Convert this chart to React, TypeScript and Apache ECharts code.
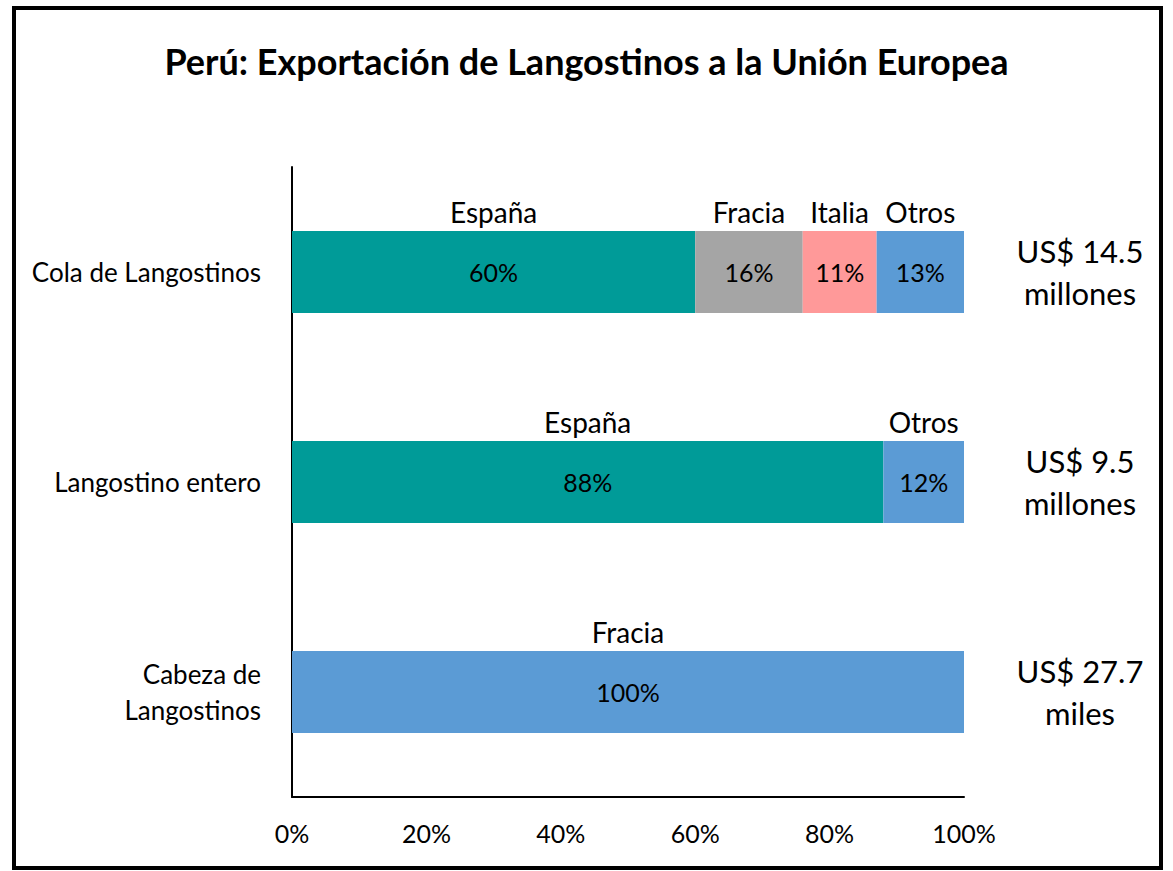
import React, { useEffect, useRef } from "react";
import * as echarts from "echarts";

const categories = ["Cola de Langostinos", "Langostino entero", "Cabeza de\nLangostinos"];
const totals = ["US$ 14.5\nmillones", "US$ 9.5\nmillones", "US$ 27.7\nmiles"];
const seriesNames = ["España", "Fracia", "Italia", "Otros"];
const espana = [60, 88, 0];
const fracia = [16, 0, 100];
const italia = [11, 0, 0];
const otros = [13, 12, 0];

const FONT = "Lato, 'Noto Sans', sans-serif";
const colors = ["#009B98", "#A5A5A5", "#FF9999", "#5B9BD5"];

export default function App() {
  const ref = useRef<HTMLDivElement>(null);
  useEffect(() => {
    if (!ref.current) return;
    const chart = echarts.init(ref.current, null, { renderer: "svg" });
    const all = [espana, fracia, italia, otros];
    const series = all.map((vals, si) => ({
      name: seriesNames[si],
      type: "bar",
      stack: "total",
      barWidth: "39%",
      itemStyle: { color: colors[si] },
      data: vals.map((v, ci) => {
        const item: any = { value: v };
        if (v === 0) {
          item.label = { show: false };
        }
        // the "Cabeza de Langostinos" bar (Francia) is drawn in the blue of the original
        if (si === 1 && ci === 2) item.itemStyle = { color: colors[3] };
        return item;
      }),
      label: {
        show: true,
        position: "inside",
        offset: [0, -30],
        formatter: (p: any) => `{n|${p.seriesName}}\n{p|${p.value}%}`,
        rich: {
          n: { fontFamily: FONT, fontSize: 28, lineHeight: 60, color: "#000" },
          p: { fontFamily: FONT, fontSize: 25, lineHeight: 60, color: "#000" },
        },
      },
    }));
    chart.setOption({
      animation: false,
      backgroundColor: "#fff",
      textStyle: { fontFamily: FONT },
      title: {
        text: "Perú: Exportación de Langostinos a la Unión Europea",
        left: "center",
        top: 38,
        textStyle: { fontFamily: FONT, fontSize: 36, fontWeight: "bold", color: "#000" },
      },
      graphic: [
        {
          type: "rect",
          shape: { x: 14, y: 8, width: 1147, height: 860 },
          style: { fill: "none", stroke: "#000", lineWidth: 4 },
          silent: true,
        },
      ],
      grid: { left: 292, right: 209, top: 167, bottom: 74 },
      xAxis: {
        type: "value",
        min: 0,
        max: 100,
        interval: 20,
        axisLine: { show: true, lineStyle: { color: "#000", width: 2 } },
        axisTick: { show: false },
        splitLine: { show: false },
        axisLabel: {
          formatter: "{value}%",
          fontFamily: FONT,
          fontSize: 25,
          color: "#000",
          margin: 23,
        },
      },
      yAxis: [
        {
          type: "category",
          inverse: true,
          data: categories,
          axisLine: { show: true, lineStyle: { color: "#000", width: 2 } },
          axisTick: { show: false },
          axisLabel: {
            fontFamily: FONT,
            fontSize: 26,
            color: "#000",
            margin: 31,
            lineHeight: 36,
          },
        },
        {
          type: "category",
          inverse: true,
          position: "right",
          data: totals,
          axisLine: { show: false },
          axisTick: { show: false },
          axisLabel: {
            fontFamily: FONT,
            fontSize: 31,
            color: "#000",
            align: "center",
            margin: 116,
            lineHeight: 42,
            padding: [0, 0, 10, 0],
          },
        },
      ],
      series,
    });
    return () => chart.dispose();
  }, []);
  return (
    <div
      ref={ref}
      style={{ position: "fixed", left: 0, top: 0, width: 1173, height: 871 }}
    />
  );
}
